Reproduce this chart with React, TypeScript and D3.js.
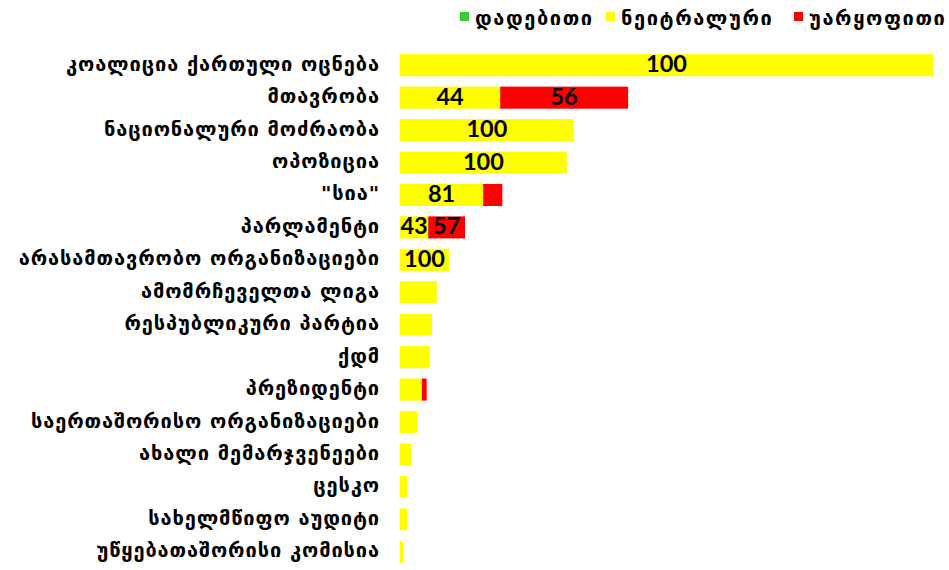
import React from "react";
import * as d3 from "d3";

const categories = [
  "კოალიცია ქართული ოცნება",
  "მთავრობა",
  "ნაციონალური მოძრაობა",
  "ოპოზიცია",
  "\"სია\"",
  "პარლამენტი",
  "არასამთავრობო ორგანიზაციები",
  "ამომრჩეველთა ლიგა",
  "რესპუბლიკური პარტია",
  "ქდმ",
  "პრეზიდენტი",
  "საერთაშორისო ორგანიზაციები",
  "ახალი მემარჯვენეები",
  "ცესკო",
  "სახელმწიფო აუდიტი",
  "უწყებათაშორისი კომისია",
];

const positive = [0, 0, 0, 0, 0, 0, 0, 0, 0, 0, 0, 0, 0, 0, 0, 0];
const neutral = [100, 18.8, 32.6, 31.3, 15.6, 5.3, 9.2, 6.9, 6.0, 5.6, 4.1, 3.2, 2.1, 1.3, 1.3, 0.6];
const negative = [0, 24.0, 0, 0, 3.6, 6.9, 0, 0, 0, 0, 0.9, 0, 0, 0, 0, 0];

const neutralLabels = ["100", "44", "100", "100", "81", "43", "100", "", "", "", "", "", "", "", "", ""];
const negativeLabels = ["", "56", "", "", "", "57", "", "", "", "", "", "", "", "", "", ""];

const seriesNames = ["დადებითი", "ნეიტრალური", "უარყოფითი"];
const seriesColors = ["#33cc33", "#ffff00", "#ff0000"];

const W = 949;
const H = 570;
const left = 400;
const right = 933;

export default function App() {
  const x = d3.scaleLinear().domain([0, 100]).range([left, right]);
  const y = d3
    .scaleBand<string>()
    .domain(categories)
    .range([49, 568])
    .paddingInner(0.32)
    .paddingOuter(0.16);
  const bh = y.bandwidth();
  const geo = "'DejaVu Sans', sans-serif";
  const num = "Lato, 'Open Sans', sans-serif";
  const legendX = [460, 606, 794];
  return (
    <svg width={W} height={H} style={{ position: "absolute", left: 0, top: 0 }}>
      <rect width={W} height={H} fill="#fff" />
      {seriesNames.map((s, i) => (
        <g key={s}>
          <rect x={legendX[i]} y={12} width={9} height={9} fill={seriesColors[i]} />
          <text
            x={legendX[i] + 15}
            y={19}
            dominantBaseline="middle"
            fontFamily={geo}
            fontWeight="bold"
            fontSize={20}
            letterSpacing={1.6}
            fill="#000"
          >
            {s}
          </text>
        </g>
      ))}
      {categories.map((c, i) => {
        const yy = y(c)!;
        const p0 = x(0);
        const p1 = x(positive[i]);
        const n1 = x(positive[i] + neutral[i]);
        const r1 = x(positive[i] + neutral[i] + negative[i]);
        return (
          <g key={c}>
            <text
              x={380}
              y={yy + bh / 2}
              textAnchor="end"
              dominantBaseline="middle"
              fontFamily={geo}
              fontWeight="bold"
              fontSize={20}
              letterSpacing={0.9}
              fill="#000"
            >
              {c}
            </text>
            {positive[i] > 0 && (
              <rect x={p0} y={yy} width={p1 - p0} height={bh} fill={seriesColors[0]} />
            )}
            {neutral[i] > 0 && (
              <rect x={p1} y={yy} width={n1 - p1} height={bh} fill={seriesColors[1]} />
            )}
            {negative[i] > 0 && (
              <rect x={n1} y={yy} width={r1 - n1} height={bh} fill={seriesColors[2]} />
            )}
            {neutralLabels[i] && (
              <text
                x={(p1 + n1) / 2}
                y={yy + bh / 2 + 1}
                textAnchor="middle"
                dominantBaseline="middle"
                fontFamily={num}
                fontWeight="bold"
                fontSize={23.5}
                fill="#000"
              >
                {neutralLabels[i]}
              </text>
            )}
            {negativeLabels[i] && (
              <text
                x={(n1 + r1) / 2}
                y={yy + bh / 2 + 1}
                textAnchor="middle"
                dominantBaseline="middle"
                fontFamily={num}
                fontWeight="bold"
                fontSize={23.5}
                fill="#000"
              >
                {negativeLabels[i]}
              </text>
            )}
          </g>
        );
      })}
    </svg>
  );
}
